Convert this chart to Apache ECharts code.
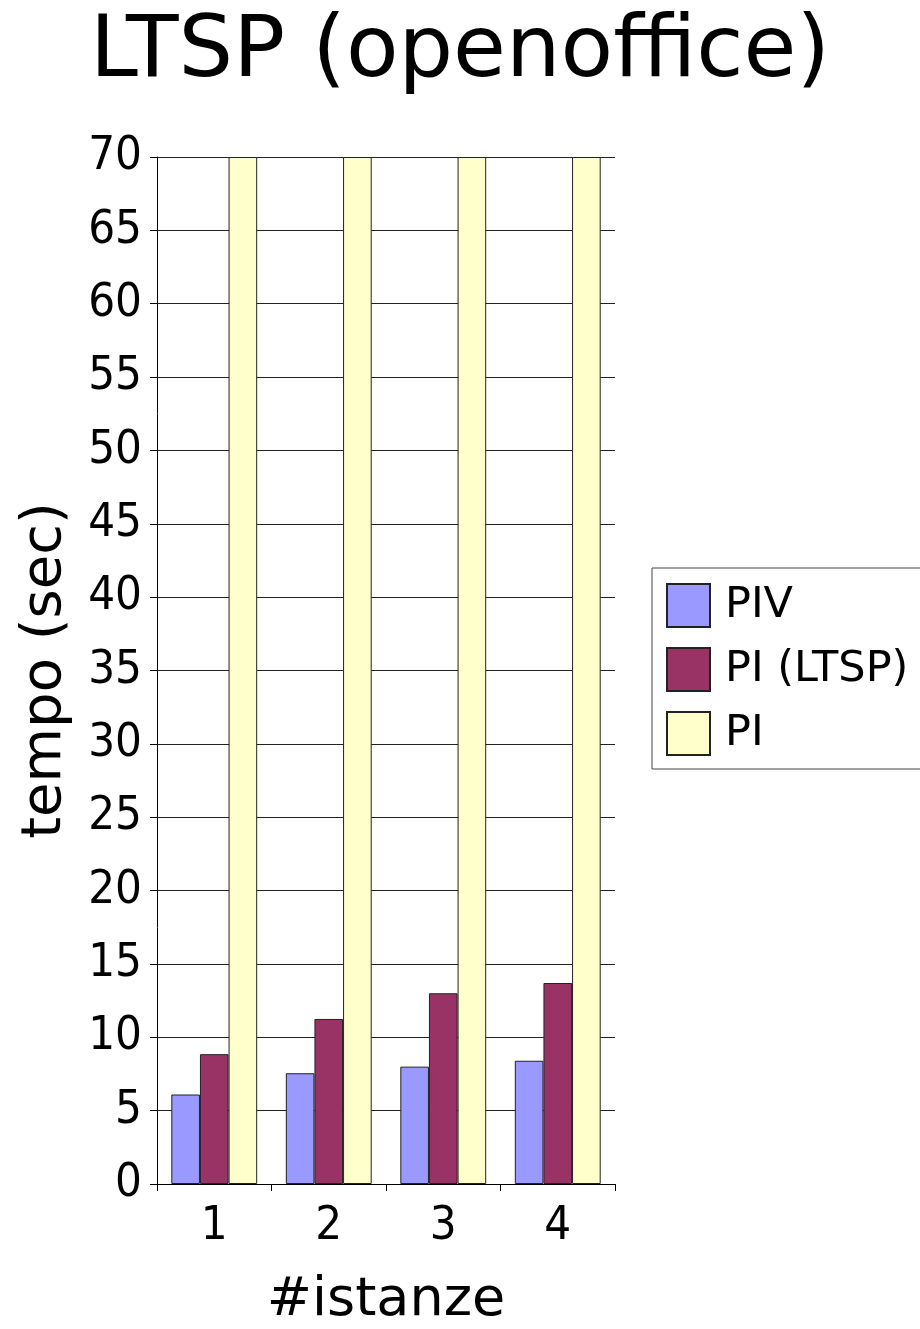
<!DOCTYPE html>
<html>
<head>
<meta charset="utf-8">
<script src="https://cdn.jsdelivr.net/npm/echarts@6/dist/echarts.min.js"></script>
<style>
  html, body { margin: 0; padding: 0; background: #fff; }
  #chart { width: 920px; height: 1329px; }
</style>
</head>
<body>
<div id="chart"></div>
<script>
let categories = ['1', '2', '3', '4'];
let piv = [6.1, 7.55, 8.0, 8.4];
let piLtsp = [8.85, 11.25, 13.0, 13.7];
let pi = [70, 70, 70, 70];   // all bars reach the top of the axis

let font = 'DejaVu Sans';
let tickFont = '"DejaVu Sans Condensed", "DejaVu Sans"';
let myChart = echarts.init(document.getElementById('chart'));

let barStyle = function (color) {
    return { color: color, borderColor: '#222', borderWidth: 1 };
};

let option = {
    animation: false,
    title: {
        text: 'LTSP (openoffice)',
        left: 'center',
        top: 6,
        textStyle: { fontFamily: font, fontSize: 86, fontWeight: 'normal', color: '#000' }
    },
    legend: {
        data: ['PIV', 'PI (LTSP)', 'PI'],
        orient: 'vertical',
        left: 652,
        top: 568,
        padding: [15, 30, 13, 14],
        itemWidth: 43,
        itemHeight: 43,
        itemGap: 19,
        icon: 'rect',
        borderColor: '#444',
        borderWidth: 1,
        textStyle: { fontFamily: font, fontSize: 43, color: '#000', padding: [0, 0, 0, 10] }
    },
    grid: {
        left: 157,
        right: 305,
        top: 157,
        bottom: 145,
        outerBoundsMode: 'none'
    },
    xAxis: {
        type: 'category',
        data: categories,
        name: '#istanze',
        nameLocation: 'middle',
        nameGap: 90,
        nameTextStyle: { fontFamily: font, fontSize: 54, color: '#000' },
        axisLine: { lineStyle: { color: '#000', width: 1 } },
        axisTick: { show: true, length: 7, lineStyle: { color: '#000' } },
        axisLabel: { fontFamily: tickFont, fontSize: 47, color: '#000', margin: 19 }
    },
    yAxis: {
        type: 'value',
        min: 0,
        max: 70,
        interval: 5,
        name: 'tempo (sec)',
        nameLocation: 'middle',
        nameGap: 84,
        nameTextStyle: { fontFamily: font, fontSize: 56, color: '#000' },
        axisLine: { show: true, lineStyle: { color: '#000', width: 1 } },
        axisTick: { show: true, length: 7, lineStyle: { color: '#000' } },
        axisLabel: { fontFamily: tickFont, fontSize: 47, color: '#000', margin: 15 },
        splitLine: { lineStyle: { color: '#222', width: 1 } }
    },
    series: [{
        name: 'PIV',
        type: 'bar',
        barGap: '0%',
        barCategoryGap: '25%',
        itemStyle: barStyle('#9999ff'),
        data: piv
    }, {
        name: 'PI (LTSP)',
        type: 'bar',
        itemStyle: barStyle('#993366'),
        data: piLtsp
    }, {
        name: 'PI',
        type: 'bar',
        itemStyle: barStyle('#ffffcc'),
        data: pi
    }]
};

myChart.setOption(option);
</script>
</body>
</html>
